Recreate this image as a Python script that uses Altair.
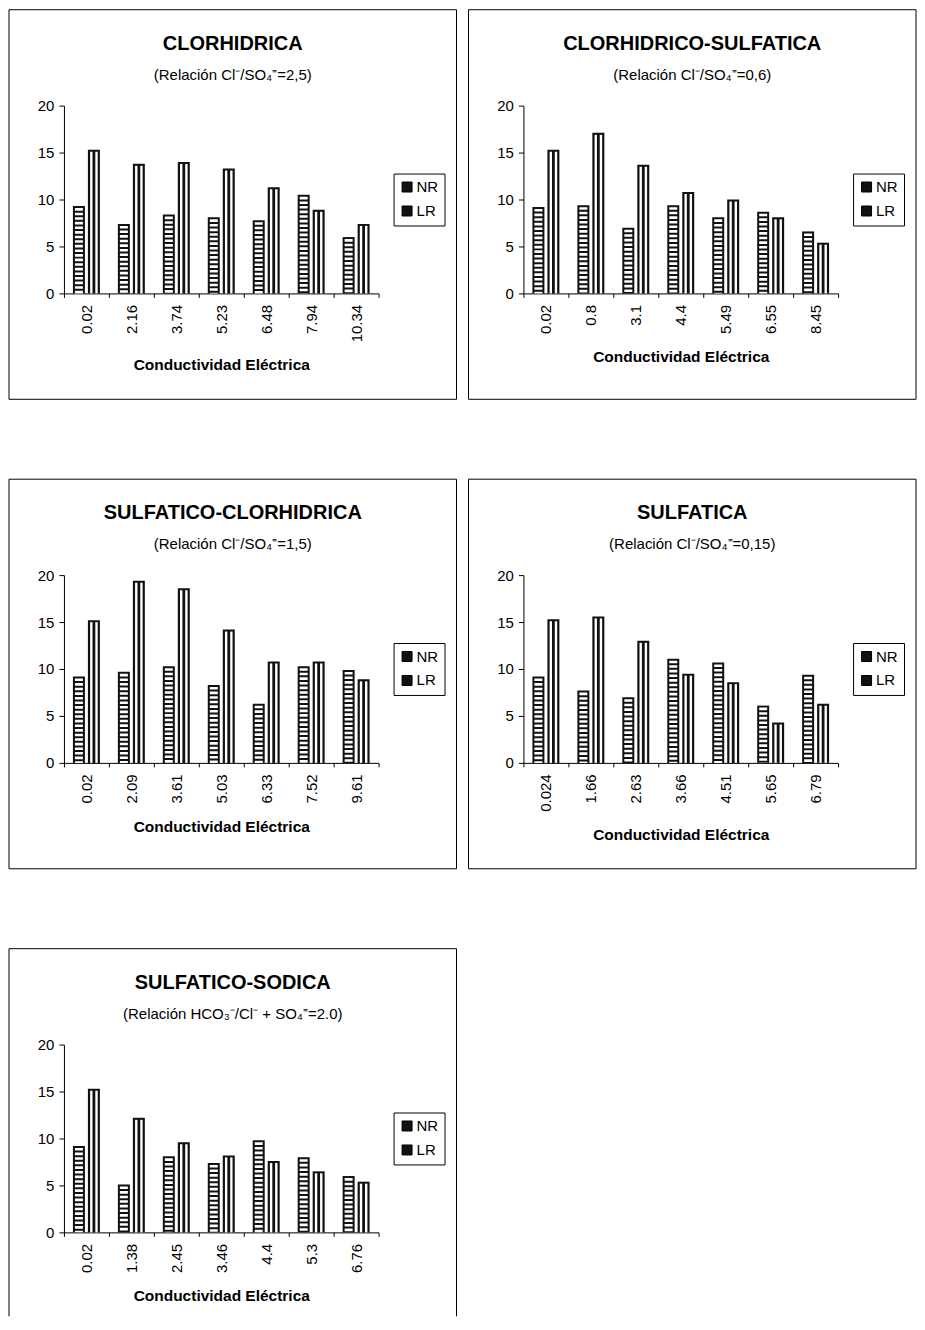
import altair as alt
import pandas as pd

FONT = "Liberation Sans"

# ---------------- data ----------------
titles = ["CLORHIDRICA", "CLORHIDRICO-SULFATICA", "SULFATICO-CLORHIDRICA",
          "SULFATICA", "SULFATICO-SODICA"]
subtitles = ["(Relación Cl⁻/SO₄⁼=2,5)", "(Relación Cl⁻/SO₄⁼=0,6)",
             "(Relación Cl⁻/SO₄⁼=1,5)", "(Relación Cl⁻/SO₄⁼=0,15)",
             "(Relación HCO₃⁻/Cl⁻ + SO₄⁼=2.0)"]

cats1 = ["0.02", "2.16", "3.74", "5.23", "6.48", "7.94", "10.34"]
nr1 = [9.3, 7.4, 8.4, 8.1, 7.8, 10.5, 6.0]
lr1 = [15.3, 13.8, 14.0, 13.3, 11.3, 8.9, 7.4]

cats2 = ["0.02", "0.8", "3.1", "4.4", "5.49", "6.55", "8.45"]
nr2 = [9.2, 9.4, 7.0, 9.4, 8.1, 8.7, 6.6]
lr2 = [15.3, 17.1, 13.7, 10.8, 10.0, 8.1, 5.4]

cats3 = ["0.02", "2.09", "3.61", "5.03", "6.33", "7.52", "9.61"]
nr3 = [9.2, 9.7, 10.3, 8.3, 6.3, 10.3, 9.9]
lr3 = [15.2, 19.4, 18.6, 14.2, 10.8, 10.8, 8.9]

cats4 = ["0.024", "1.66", "2.63", "3.66", "4.51", "5.65", "6.79"]
nr4 = [9.2, 7.7, 7.0, 11.1, 10.7, 6.1, 9.4]
lr4 = [15.3, 15.6, 13.0, 9.5, 8.6, 4.3, 6.3]

cats5 = ["0.02", "1.38", "2.45", "3.46", "4.4", "5.3", "6.76"]
nr5 = [9.2, 5.1, 8.1, 7.4, 9.8, 8.0, 6.0]
lr5 = [15.3, 12.2, 9.6, 8.2, 7.6, 6.5, 5.4]

series = ["NR", "LR"]
y_ticks = [0, 5, 10, 15, 20]
x_title = "Conductividad Eléctrica"

# ---------------- layout constants ----------------
W, H = 315, 188
FL, FR, FT, FB = -55, W + 78, -96, H + 106   # panel frame
CX = (FL + FR) / 2
BW = 12
OFF = 7.5

one = pd.DataFrame({"k": [0]})


def panel(title, subtitle, cats, nr, lr, open_bottom=False):
    df = pd.DataFrame({
        "ce": cats + cats,
        "serie": ["NR"] * len(cats) + ["LR"] * len(cats),
        "valor": nr + lr,
    })
    base = alt.Chart(df)
    xenc = alt.X("ce:N", sort=cats,
                 scale=alt.Scale(paddingInner=0, paddingOuter=0),
                 axis=alt.Axis(labelAngle=-90, tickBand="extent", title=x_title,
                               titleFontSize=15.5, titleFontWeight="bold",
                               labelFontSize=15, tickSize=4, labelPadding=7,
                               titlePadding=16))
    yenc = alt.Y("valor:Q", scale=alt.Scale(domain=[0, 20], nice=False),
                 axis=alt.Axis(values=y_ticks, grid=False, title=None,
                               labelFontSize=15, tickSize=5, labelPadding=5))
    color = alt.Color("serie:N",
                      scale=alt.Scale(domain=series, range=["#111111", "#111111"]),
                      legend=alt.Legend(title=None, orient="none", legendX=W + 15,
                                        legendY=68, strokeColor="black", padding=6,
                                        symbolType="square", symbolSize=100,
                                        symbolStrokeColor="black", symbolStrokeWidth=1,
                                        labelFontSize=15, labelFont=FONT,
                                        labelColor="black",
                                        rowPadding=8, labelOffset=2))
    nr_b = base.transform_filter(alt.datum.serie == "NR")
    lr_b = base.transform_filter(alt.datum.serie == "LR")

    layers = []
    if open_bottom:
        layers += [
            alt.Chart(one).mark_rule(color="black", strokeWidth=1).encode(
                x=alt.value(FL), x2=alt.value(FR), y=alt.value(FT)),
            alt.Chart(one).mark_rule(color="black", strokeWidth=1).encode(
                x=alt.value(FL), y=alt.value(FT), y2=alt.value(H + 84)),
            alt.Chart(one).mark_rule(color="black", strokeWidth=1).encode(
                x=alt.value(FR), y=alt.value(FT), y2=alt.value(H + 84)),
        ]
    else:
        layers.append(alt.Chart(one).mark_rect(fillOpacity=0, stroke="black",
                                               strokeWidth=1).encode(
            x=alt.value(FL), x2=alt.value(FR), y=alt.value(FT), y2=alt.value(FB)))

    layers += [
        nr_b.mark_bar(width=BW, xOffset=-OFF).encode(x=xenc, y=yenc, color=color),
        lr_b.mark_bar(width=BW, xOffset=OFF).encode(x=xenc, y=yenc, color=color),
        # NR horizontal stripes
        nr_b.mark_rule(color="white", strokeWidth=BW - 4, strokeDash=[2.6, 2.0],
                       strokeCap="butt", xOffset=-OFF, yOffset=2).encode(
            x=xenc, y=yenc, y2=alt.datum(0)),
    ]
    # LR vertical stripes
    for d in (-2.6, 2.6):
        layers.append(lr_b.mark_rule(color="white", strokeWidth=2.4, strokeCap="butt",
                                     xOffset=OFF + d, yOffset=2).encode(
            x=xenc, y=yenc, y2=alt.datum(0)))
    layers += [
        alt.Chart(one).mark_text(font=FONT, fontSize=20, fontWeight="bold",
                                 color="black", align="center",
                                 baseline="middle").encode(
            x=alt.value(CX), y=alt.value(-62), text=alt.value(title)),
        alt.Chart(one).mark_text(font=FONT, fontSize=15, color="black",
                                 align="center", baseline="middle").encode(
            x=alt.value(CX), y=alt.value(-31), text=alt.value(subtitle)),
    ]
    return alt.layer(*layers).properties(width=W, height=H)


p1 = panel(titles[0], subtitles[0], cats1, nr1, lr1)
p2 = panel(titles[1], subtitles[1], cats2, nr2, lr2)
p3 = panel(titles[2], subtitles[2], cats3, nr3, lr3)
p4 = panel(titles[3], subtitles[3], cats4, nr4, lr4)
p5 = panel(titles[4], subtitles[4], cats5, nr5, lr5, open_bottom=True)

row1 = alt.hconcat(p1, p2, spacing=10).resolve_scale(color="independent")
row2 = alt.hconcat(p3, p4, spacing=10).resolve_scale(color="independent")

chart = alt.vconcat(row1, row2, p5, spacing=78).resolve_scale(
    color="independent"
).properties(
    padding=0, background="white"
).configure_view(
    stroke=None, strokeWidth=0
).configure_axis(
    labelFont=FONT, titleFont=FONT, labelColor="black", titleColor="black",
    domainColor="black", tickColor="black"
)

chart.save("out.html", embed_options={"renderer": "svg", "actions": False})
